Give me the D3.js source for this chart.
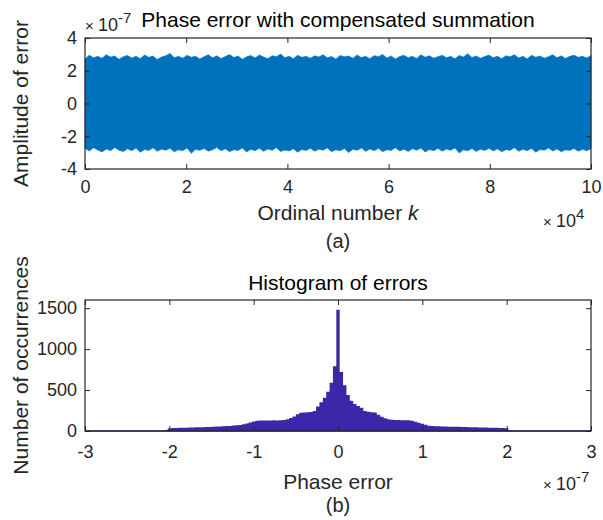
<html>
<head>
  <meta charset="UTF-8">
  <title>Phase error with compensated summation</title>
  <script src="https://d3js.org/d3.v7.min.js"></script>
  <style>
    body { margin: 0; background: #fff; }
    text { font-family: "Liberation Sans", Arial, sans-serif; fill: #262626; }
  </style>
</head>
<body>
  <svg id="chart" width="603" height="520"></svg>
  <script>
    /* Data (errors in units of 1e-7, ordinal number k in units of 1e4) */
    // envelope of the error signal, left to right
    const upperEnvelope = [
      2.72, 2.95, 2.80, 2.88, 2.76, 2.98, 2.84, 2.90, 2.70, 2.86,
      2.93, 2.78, 2.88, 2.74, 2.96, 2.82, 2.90, 2.68, 2.84, 2.92,
      3.06, 2.80, 2.88, 2.76, 2.94, 2.83, 2.89, 2.72, 2.86, 2.97,
      2.79, 2.91, 2.75, 2.87, 2.99, 2.81, 2.90, 2.70, 2.85, 2.93,
      2.78, 2.96, 2.84, 2.74, 2.92, 2.86, 3.02, 2.80, 2.89, 2.73,
      2.95, 2.82, 2.88, 2.77, 2.91, 2.84, 2.98, 2.79, 2.87, 2.71,
      2.93, 2.85, 2.90, 2.76, 2.96, 2.81, 2.88, 2.74, 2.92, 2.86,
      2.99, 2.78, 2.90, 2.72, 2.87, 2.94, 2.80, 2.89, 2.75, 2.97,
      2.83, 2.91, 2.77, 2.86, 2.95, 2.79, 2.88, 2.73, 2.93, 2.84,
      3.04, 2.81, 2.90, 2.76, 2.87, 2.96, 2.80, 2.89, 2.74, 2.92,
      2.85, 2.98, 2.78, 2.88, 2.72, 2.94, 2.83, 2.90, 2.77, 2.86,
      2.97, 2.80, 2.91, 2.75, 2.88, 2.95, 2.82, 2.89, 2.78, 2.93
    ];
    const lowerEnvelope = [
      -2.74, -2.90, -2.70, -2.84, -2.96, -2.78, -2.88, -2.68, -2.86, -2.93,
      -2.76, -2.89, -2.72, -2.98, -2.81, -2.87, -2.70, -2.92, -2.79, -2.85,
      -2.73, -2.95, -2.82, -2.88, -2.71, -3.04, -2.80, -2.86, -2.75, -2.91,
      -2.83, -2.69, -2.89, -2.77, -2.94, -2.82, -2.87, -2.72, -2.96, -2.80,
      -2.88, -2.74, -2.92, -2.78, -2.86, -2.70, -2.93, -2.84, -2.90, -2.76,
      -2.97, -2.81, -2.87, -2.73, -2.91, -2.79, -2.85, -2.71, -2.94, -2.83,
      -2.89, -2.75, -2.99, -2.80, -2.86, -2.72, -2.92, -2.78, -2.88, -2.74,
      -2.95, -2.82, -2.87, -2.70, -2.90, -2.79, -2.93, -2.76, -2.85, -2.72,
      -2.96, -2.81, -2.88, -2.74, -2.91, -2.78, -2.86, -2.71, -3.02, -2.83,
      -2.89, -2.75, -2.93, -2.80, -2.87, -2.73, -2.90, -2.77, -2.94, -2.82,
      -2.86, -2.70, -2.92, -2.79, -2.88, -2.74, -2.97, -2.81, -2.85, -2.72,
      -2.90, -2.78, -2.94, -2.83, -2.87, -2.75, -2.91, -2.80, -2.89, -2.76
    ];
    const kTicks = [0, 2, 4, 6, 8, 10];
    const ampTicks = [-4, -2, 0, 2, 4];

    // histogram: bins of width 0.04 starting at -2.06
    const binStart = -2.06;
    const binWidth = 0.04;
    const histCounts = [
      12, 30, 36, 38, 40, 41, 40, 42, 44, 45,
      46, 47, 49, 50, 52, 54, 56, 57, 60, 62,
      66, 70, 74, 82, 92, 104, 116, 124, 127, 128,
      129, 128, 130, 129, 131, 135, 143, 158, 178, 205,
      222, 226, 228, 232, 245, 300, 350, 405, 480, 590,
      790, 1480, 720, 560, 440, 370, 330, 305, 285, 245,
      235, 230, 226, 200, 175, 155, 142, 136, 134, 133,
      131, 132, 130, 126, 112, 102, 90, 76, 64, 60,
      58, 57, 55, 54, 53, 52, 52, 51, 50, 48,
      47, 46, 45, 44, 43, 42, 41, 40, 39, 38,
      36, 33, 10
    ];
    const phaseTicks = [-3, -2, -1, 0, 1, 2, 3];
    const countTicks = [0, 500, 1000, 1500];

    /* Layout */
    const svg = d3.select("#chart");
    const left = 85, right = 591;
    const plotA = { top: 38, bottom: 169 };
    const plotB = { top: 300, bottom: 431 };
    const axisColor = "#262626";
    const tickFont = 18;
    const labelFont = 21;

    /* (a) phase error signal */
    const xA = d3.scaleLinear().domain([0, 10]).range([left, right]);
    const yA = d3.scaleLinear().domain([-4, 4]).range([plotA.bottom, plotA.top]);
    const kOf = i => i * 10 / (upperEnvelope.length - 1);

    const band = d3.area()
      .x((d, i) => xA(kOf(i)))
      .y0((d, i) => yA(lowerEnvelope[i]))
      .y1(d => yA(d));

    svg.append("path")
      .datum(upperEnvelope)
      .attr("d", band)
      .attr("fill", "#0072BD")
      .attr("stroke", "#0072BD")
      .attr("stroke-width", 0.6);

    drawAxes(xA, yA, kTicks, ampTicks, plotA, 11);

    /* (b) histogram */
    const xB = d3.scaleLinear().domain([-3, 3]).range([left, right]);
    const yB = d3.scaleLinear().domain([0, 1600]).range([plotB.bottom, plotB.top]);

    const binPoints = histCounts.map((c, i) => ({ x: binStart + i * binWidth, c: c }));
    binPoints.push({ x: binStart + histCounts.length * binWidth, c: 0 });

    const bars = d3.area()
      .curve(d3.curveStepAfter)
      .x(d => xB(d.x))
      .y0(yB(0))
      .y1(d => yB(d.c));

    svg.append("path")
      .datum(binPoints)
      .attr("d", bars)
      .attr("fill", "#3E26A8");

    // zero baseline of the bar series
    svg.append("line")
      .attr("x1", xB(-3)).attr("x2", xB(3))
      .attr("y1", yB(0)).attr("y2", yB(0))
      .attr("stroke", "#3E26A8")
      .attr("stroke-width", 1.5);

    drawAxes(xB, yB, phaseTicks, countTicks, plotB, 14);

    function drawAxes(x, y, xt, yt, box, xPad) {
      const g = svg.append("g");
      const plain = d => String(d);
      g.append("g")
        .attr("transform", `translate(0,${box.bottom})`)
        .call(d3.axisBottom(x).tickValues(xt).tickFormat(plain).tickSizeInner(-5).tickSizeOuter(0).tickPadding(xPad));
      g.append("g")
        .attr("transform", `translate(0,${box.top})`)
        .call(d3.axisTop(x).tickValues(xt).tickSizeInner(-5).tickSizeOuter(0).tickFormat(""));
      g.append("g")
        .attr("transform", `translate(${left},0)`)
        .call(d3.axisLeft(y).tickValues(yt).tickFormat(plain).tickSizeInner(-5).tickSizeOuter(0).tickPadding(8));
      g.append("g")
        .attr("transform", `translate(${right},0)`)
        .call(d3.axisRight(y).tickValues(yt).tickSizeInner(-5).tickSizeOuter(0).tickFormat(""));
      g.selectAll(".domain").remove();
      g.selectAll(".tick line").attr("stroke", axisColor);
      g.selectAll(".tick text")
        .attr("font-family", null)
        .style("font-size", tickFont + "px")
        .attr("fill", axisColor);
      g.append("rect")
        .attr("x", left).attr("y", box.top)
        .attr("width", right - left).attr("height", box.bottom - box.top)
        .attr("fill", "none")
        .attr("stroke", axisColor)
        .attr("stroke-width", 1.2);
    }

    /* Text */
    function exponent(x, yBase, power) {
      const t = svg.append("text")
        .attr("x", x).attr("y", yBase)
        .style("font-size", tickFont + "px");
      t.append("tspan").style("font-size", "15px").text("× ");
      t.append("tspan").text("10");
      t.append("tspan").attr("dy", -8).style("font-size", "15px").text(power);
    }

    svg.append("text")
      .attr("x", 338).attr("y", 27)
      .attr("text-anchor", "middle")
      .style("font-size", labelFont + "px")
      .style("fill", "#000")
      .text("Phase error with compensated summation");
    exponent(85, 31, "-7");

    svg.append("text")
      .attr("transform", `translate(28,${(plotA.top + plotA.bottom) / 2}) rotate(-90)`)
      .attr("text-anchor", "middle")
      .style("font-size", labelFont + "px")
      .text("Amplitude of error");

    const xlabA = svg.append("text")
      .attr("x", 338).attr("y", 220)
      .attr("text-anchor", "middle")
      .style("font-size", labelFont + "px");
    xlabA.append("tspan").text("Ordinal number ");
    xlabA.append("tspan").style("font-style", "italic").text("k");
    exponent(543, 227, "4");

    svg.append("text")
      .attr("x", 338).attr("y", 248)
      .attr("text-anchor", "middle")
      .style("font-size", "20px")
      .text("(a)");

    svg.append("text")
      .attr("x", 338).attr("y", 290)
      .attr("text-anchor", "middle")
      .style("font-size", labelFont + "px")
      .style("fill", "#000")
      .text("Histogram of errors");

    svg.append("text")
      .attr("transform", `translate(28,${(plotB.top + plotB.bottom) / 2}) rotate(-90)`)
      .attr("text-anchor", "middle")
      .style("font-size", labelFont + "px")
      .text("Number of occurrences");

    svg.append("text")
      .attr("x", 338).attr("y", 489)
      .attr("text-anchor", "middle")
      .style("font-size", labelFont + "px")
      .text("Phase error");
    exponent(543, 490, "-7");

    svg.append("text")
      .attr("x", 338).attr("y", 512)
      .attr("text-anchor", "middle")
      .style("font-size", "20px")
      .text("(b)");
  </script>
</body>
</html>
